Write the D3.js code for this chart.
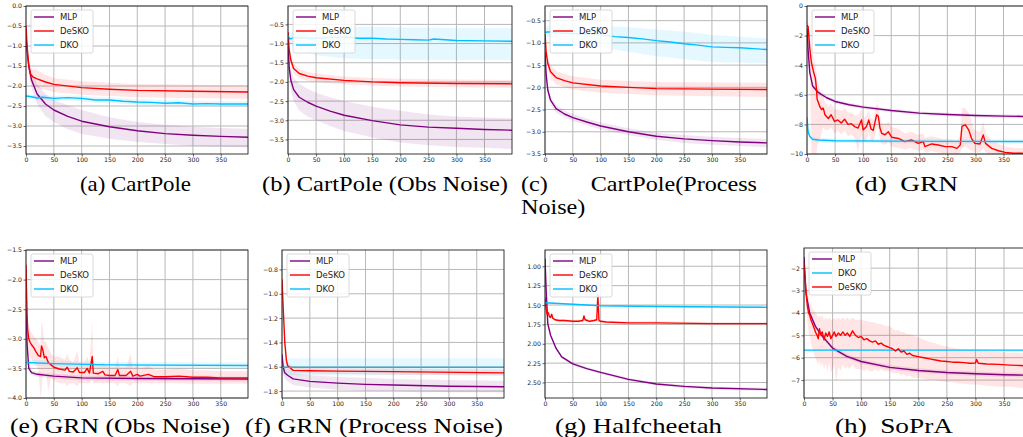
<!DOCTYPE html>
<html>
<head>
<meta charset="utf-8">
<script src="https://cdn.jsdelivr.net/npm/d3@7"></script>
<style>
    body { margin: 0; background: #fff; }
    text { font-family: "DejaVu Sans", sans-serif; }
</style>
</head>
<body>
<script>
// Training curves for 8 environments, each row is [step, mean, low, high]
var xTicks = [0, 50, 100, 150, 200, 250, 300, 350];

// (a) CartPole
var cartMLP = [[0,-0.8,-0.85,-0.75],[2,-1.15,-1.25,-1.05],[5,-1.5,-1.65,-1.35],
    [10,-1.85,-2.05,-1.65],[20,-2.2,-2.45,-1.95],[35,-2.45,-2.75,-2.2],
    [50,-2.6,-2.9,-2.35],[75,-2.76,-3.08,-2.48],[100,-2.88,-3.2,-2.6],
    [150,-3.02,-3.32,-2.78],[200,-3.12,-3.4,-2.9],[250,-3.19,-3.45,-2.97],
    [300,-3.23,-3.5,-3.02],[350,-3.26,-3.52,-3.05],[399,-3.28,-3.54,-3.07]];
var cartDeSKO = [[0,-0.5,-0.55,-0.45],[2,-1.0,-1.1,-0.9],[5,-1.5,-1.65,-1.35],
    [8,-1.7,-1.9,-1.5],[12,-1.77,-2.0,-1.58],[20,-1.82,-2.05,-1.6],
    [35,-1.9,-2.1,-1.72],[50,-1.96,-2.15,-1.8],[100,-2.04,-2.22,-1.88],
    [150,-2.08,-2.25,-1.92],[200,-2.11,-2.28,-1.95],[300,-2.13,-2.3,-1.97],
    [399,-2.15,-2.32,-1.98]];
var cartDKO = [[0,-2.25,-2.3,-2.2],[10,-2.27,-2.33,-2.21],[20,-2.3,-2.36,-2.24],
    [30,-2.28,-2.34,-2.22],[50,-2.31,-2.38,-2.25],[75,-2.29,-2.36,-2.23],
    [100,-2.31,-2.38,-2.24],[125,-2.35,-2.42,-2.28],[150,-2.35,-2.43,-2.28],
    [175,-2.38,-2.45,-2.31],[200,-2.4,-2.47,-2.33],[225,-2.41,-2.48,-2.34],
    [250,-2.43,-2.5,-2.36],[275,-2.42,-2.49,-2.35],[300,-2.45,-2.52,-2.38],
    [325,-2.44,-2.51,-2.37],[350,-2.45,-2.52,-2.38],[399,-2.45,-2.52,-2.38]];

// (b) CartPole (Obs Noise)
var obsMLP = [[0,-1.0,-1.1,-0.9],[2,-1.6,-1.8,-1.4],[5,-1.95,-2.2,-1.7],
    [10,-2.2,-2.5,-1.9],[20,-2.4,-2.75,-2.05],[35,-2.53,-2.9,-2.18],
    [50,-2.63,-3.0,-2.28],[75,-2.76,-3.15,-2.4],[100,-2.87,-3.28,-2.5],
    [150,-3.01,-3.45,-2.65],[200,-3.12,-3.58,-2.75],[250,-3.18,-3.65,-2.85],
    [300,-3.21,-3.7,-2.9],[350,-3.24,-3.72,-2.93],[399,-3.26,-3.75,-2.95]];
var obsDeSKO = [[0,-0.7,-0.75,-0.65],[2,-1.15,-1.25,-1.05],[5,-1.43,-1.55,-1.3],
    [10,-1.65,-1.78,-1.52],[20,-1.78,-1.9,-1.66],[35,-1.85,-1.97,-1.74],
    [50,-1.89,-2.0,-1.78],[100,-1.96,-2.07,-1.86],[150,-2.0,-2.1,-1.9],
    [200,-2.02,-2.12,-1.92],[300,-2.04,-2.14,-1.94],[399,-2.05,-2.15,-1.95]];
var obsDKO = [[0,-0.78,-0.9,-0.7],[3,-0.88,-1.0,-0.75],[10,-0.85,-1.1,-0.65],
    [25,-0.85,-1.2,-0.6],[50,-0.86,-1.3,-0.58],[75,-0.84,-1.35,-0.57],
    [100,-0.83,-1.38,-0.56],[125,-0.86,-1.4,-0.57],[150,-0.86,-1.4,-0.56],
    [175,-0.88,-1.4,-0.57],[200,-0.89,-1.42,-0.58],[225,-0.9,-1.42,-0.58],
    [250,-0.91,-1.43,-0.59],[260,-0.88,-1.42,-0.58],[300,-0.92,-1.43,-0.6],
    [350,-0.93,-1.43,-0.6],[399,-0.94,-1.43,-0.6]];

// (c) CartPole (Process Noise)
var procMLP = [[0,-1.2,-1.3,-1.1],[2,-1.7,-1.8,-1.6],[5,-2.06,-2.15,-1.97],
    [10,-2.29,-2.38,-2.2],[20,-2.48,-2.57,-2.4],[35,-2.6,-2.68,-2.52],
    [50,-2.68,-2.76,-2.6],[75,-2.78,-2.86,-2.7],[100,-2.87,-2.95,-2.79],
    [150,-3.0,-3.08,-2.92],[200,-3.1,-3.18,-3.02],[250,-3.16,-3.25,-3.07],
    [300,-3.2,-3.29,-3.11],[350,-3.23,-3.32,-3.14],[399,-3.25,-3.35,-3.16]];
var procDeSKO = [[0,-0.8,-0.85,-0.75],[2,-1.2,-1.3,-1.1],[5,-1.46,-1.6,-1.32],
    [10,-1.65,-1.8,-1.5],[20,-1.78,-1.93,-1.63],[35,-1.85,-2.0,-1.7],
    [50,-1.9,-2.05,-1.75],[100,-1.97,-2.12,-1.83],[150,-2.0,-2.15,-1.86],
    [200,-2.03,-2.18,-1.88],[300,-2.04,-2.2,-1.89],[399,-2.05,-2.22,-1.9]];
var procDKO = [[0,-0.76,-0.85,-0.65],[10,-0.75,-0.88,-0.6],[25,-0.78,-0.92,-0.6],
    [50,-0.79,-0.98,-0.6],[75,-0.8,-1.03,-0.6],[100,-0.82,-1.08,-0.62],
    [125,-0.86,-1.15,-0.63],[150,-0.88,-1.2,-0.65],[175,-0.91,-1.25,-0.67],
    [200,-0.95,-1.3,-0.7],[225,-0.98,-1.33,-0.72],[250,-1.02,-1.37,-0.75],
    [275,-1.05,-1.4,-0.78],[300,-1.09,-1.43,-0.82],[325,-1.1,-1.44,-0.84],
    [350,-1.11,-1.44,-0.86],[375,-1.13,-1.45,-0.88],[399,-1.15,-1.46,-0.9]];

// (d) GRN
var grnMLP = [[0,-1.5,-1.6,-1.4],[2,-3.0,-3.2,-2.8],[5,-4.5,-4.7,-4.3],
    [10,-5.4,-5.55,-5.25],[20,-5.84,-5.98,-5.7],[35,-6.2,-6.33,-6.07],
    [50,-6.45,-6.58,-6.32],[75,-6.67,-6.8,-6.54],[100,-6.83,-6.96,-6.7],
    [150,-7.06,-7.18,-6.94],[200,-7.24,-7.36,-7.12],[250,-7.33,-7.45,-7.21],
    [300,-7.4,-7.52,-7.28],[350,-7.44,-7.56,-7.32],[399,-7.47,-7.59,-7.35]];
var grnDeSKO = [[0,-1.3,-1.5,-1.1],[2,-1.4,-2.0,-1.0],[5,-2.9,-4.0,-2.0],
    [8,-3.85,-10,-2.8],[12,-4.5,-10,-3.5],[15,-4.9,-10,-4.0],[17,-5.65,-10,-4.5],
    [18,-6.3,-9.5,-5.0],[23,-6.8,-9.0,-5.6],[26,-7.0,-8.6,-6.0],[29,-6.9,-8.2,-6.0],
    [32,-7.35,-8.4,-6.5],[38,-7.6,-8.4,-6.8],[43,-7.35,-8.2,-6.6],[49,-7.8,-8.6,-7.0],
    [55,-7.7,-8.4,-7.0],[61,-7.9,-8.7,-7.1],[67,-7.65,-8.4,-6.9],[73,-8.0,-8.8,-7.2],
    [79,-7.95,-8.7,-7.2],[85,-8.15,-8.9,-7.4],[91,-8.25,-9.9,-7.4],[97,-7.7,-8.6,-6.9],
    [100,-8.37,-9.2,-7.6],[106,-8.15,-9.0,-7.4],[110,-7.7,-8.6,-7.0],[114,-8.3,-9.1,-7.6],
    [118,-8.4,-9.2,-7.7],[124,-7.35,-8.2,-6.6],[127,-7.45,-8.3,-6.7],[130,-8.25,-9.0,-7.5],
    [133,-8.6,-9.3,-7.9],[139,-8.7,-9.4,-8.0],[145,-8.5,-9.2,-7.8],[151,-8.87,-9.5,-8.2],
    [163,-8.95,-9.6,-8.3],[174,-9.16,-9.7,-8.6],[186,-9.05,-9.6,-8.5],[198,-9.28,-9.8,-8.7],
    [207,-9.16,-9.7,-8.6],[210,-9.5,-9.9,-8.9],[222,-9.32,-9.8,-8.8],[234,-9.39,-9.9,-8.9],
    [246,-9.5,-9.95,-9.0],[258,-9.5,-9.95,-9.0],[267,-9.62,-10,-9.1],[273,-9.39,-9.9,-8.8],
    [276,-8.14,-9.6,-6.9],[282,-8.03,-9.5,-6.9],[288,-8.37,-9.6,-7.2],[293,-8.94,-9.8,-7.8],
    [299,-9.28,-9.9,-8.4],[308,-9.32,-9.9,-8.5],[314,-8.71,-9.6,-7.8],[318,-9.28,-9.9,-8.6],
    [329,-9.62,-10,-9.1],[341,-9.78,-10,-9.3],[353,-9.89,-10,-9.5],[368,-9.95,-10,-9.6],
    [383,-9.95,-10,-9.6],[399,-10.0,-10,-9.6]];
var grnDKO = [[0,-7.5,-7.7,-7.3],[2,-8.5,-8.7,-8.3],[5,-8.82,-8.98,-8.66],
    [10,-9.0,-9.15,-8.85],[20,-9.05,-9.2,-8.9],[50,-9.1,-9.25,-8.95],
    [150,-9.13,-9.28,-8.98],[250,-9.15,-9.3,-9.0],[399,-9.16,-9.31,-9.01]];

// (e) GRN (Obs Noise)
var grnObsMLP = [[0,-2.5,-2.6,-2.4],[2,-3.1,-3.2,-3.0],[5,-3.5,-3.55,-3.45],
    [10,-3.57,-3.61,-3.53],[20,-3.6,-3.64,-3.56],[50,-3.63,-3.67,-3.59],
    [100,-3.66,-3.7,-3.62],[200,-3.67,-3.71,-3.63],[399,-3.68,-3.72,-3.64]];
var grnObsDeSKO = [[0,-1.75,-1.85,-1.65],[1,-2.2,-2.4,-2.0],[2,-2.6,-2.8,-2.4],
    [3,-2.85,-3.1,-2.6],[5,-3.0,-3.3,-2.8],[7,-3.05,-3.3,-2.85],[10,-3.1,-3.35,-2.9],
    [14,-3.15,-3.4,-2.95],[18,-3.22,-3.45,-3.0],[22,-3.28,-3.5,-3.05],[26,-3.3,-4.0,-3.1],
    [28,-3.12,-3.9,-2.7],[30,-3.18,-3.6,-2.8],[33,-3.32,-3.6,-3.05],[36,-3.3,-3.55,-3.05],
    [40,-3.4,-3.9,-3.15],[45,-3.44,-3.65,-3.25],[50,-3.48,-3.7,-3.3],[60,-3.51,-3.75,-3.3],
    [70,-3.53,-3.75,-3.35],[74,-3.48,-3.8,-3.25],[78,-3.55,-3.75,-3.35],[85,-3.56,-3.75,-3.4],
    [92,-3.49,-3.8,-3.2],[96,-3.57,-3.75,-3.4],[105,-3.57,-3.75,-3.4],[110,-3.5,-3.75,-3.3],
    [114,-3.58,-3.75,-3.4],[119,-3.3,-3.7,-2.7],[121,-3.58,-3.75,-3.4],[130,-3.59,-3.75,-3.45],
    [138,-3.55,-3.75,-3.4],[142,-3.61,-3.75,-3.45],[150,-3.62,-3.75,-3.48],[160,-3.62,-3.75,-3.48],
    [165,-3.52,-3.8,-3.3],[168,-3.62,-3.75,-3.48],[180,-3.62,-3.75,-3.48],[188,-3.55,-3.8,-3.25],
    [192,-3.63,-3.75,-3.5],[200,-3.6,-3.75,-3.45],[205,-3.63,-3.75,-3.5],[220,-3.6,-3.75,-3.45],
    [230,-3.64,-3.75,-3.52],[250,-3.64,-3.75,-3.52],[275,-3.63,-3.75,-3.5],[300,-3.65,-3.76,-3.53],
    [325,-3.65,-3.76,-3.53],[350,-3.66,-3.76,-3.55],[399,-3.66,-3.76,-3.55]];
var grnObsDKO = [[0,-3.4,-3.45,-3.35],[50,-3.42,-3.47,-3.37],[150,-3.44,-3.49,-3.39],
    [399,-3.45,-3.5,-3.4]];

// (f) GRN (Process Noise)
var grnProcMLP = [[0,-1.5,-1.55,-1.45],[2,-1.6,-1.65,-1.55],[5,-1.65,-1.7,-1.6],
    [10,-1.67,-1.72,-1.62],[20,-1.7,-1.75,-1.65],[50,-1.72,-1.77,-1.67],
    [100,-1.735,-1.79,-1.685],[150,-1.745,-1.8,-1.69],[200,-1.75,-1.8,-1.7],
    [300,-1.76,-1.81,-1.71],[399,-1.765,-1.81,-1.715]];
var grnProcDeSKO = [[0,-0.88,-0.9,-0.86],[2,-1.1,-1.13,-1.07],[5,-1.4,-1.43,-1.37],
    [8,-1.55,-1.58,-1.52],[10,-1.59,-1.62,-1.56],[15,-1.61,-1.64,-1.58],
    [20,-1.63,-1.65,-1.6],[50,-1.633,-1.655,-1.61],[100,-1.636,-1.66,-1.615],
    [200,-1.64,-1.665,-1.615],[399,-1.65,-1.675,-1.625]];
var grnProcDKO = [[0,-1.605,-1.67,-1.53],[399,-1.605,-1.67,-1.53]];

// (g) Halfcheetah
var cheetahMLP = [[0,0.9,0.88,0.92],[2,1.3,1.28,1.32],[5,1.74,1.72,1.76],
    [10,1.89,1.87,1.91],[20,2.06,2.04,2.08],[30,2.17,2.15,2.19],[50,2.26,2.24,2.28],
    [75,2.32,2.3,2.34],[100,2.37,2.35,2.39],[150,2.46,2.44,2.48],[200,2.52,2.5,2.54],
    [250,2.55,2.53,2.57],[300,2.57,2.55,2.59],[399,2.59,2.57,2.61]];
var cheetahDeSKO = [[0,1.4,1.38,1.42],[2,1.55,1.53,1.57],[4,1.62,1.6,1.64],
    [6,1.6,1.58,1.62],[8,1.65,1.63,1.67],[10,1.66,1.64,1.68],[12,1.62,1.6,1.64],
    [14,1.67,1.65,1.69],[18,1.69,1.67,1.71],[25,1.7,1.68,1.72],[35,1.7,1.68,1.72],
    [50,1.71,1.69,1.73],[60,1.71,1.69,1.73],[68,1.7,1.68,1.72],[70,1.64,1.62,1.66],
    [72,1.69,1.67,1.71],[76,1.7,1.68,1.72],[80,1.71,1.69,1.73],[88,1.7,1.68,1.72],
    [93,1.69,1.67,1.71],[95,1.37,1.35,1.39],[97,1.7,1.68,1.72],[100,1.71,1.69,1.73],
    [110,1.72,1.7,1.74],[150,1.73,1.71,1.75],[200,1.73,1.71,1.75],[300,1.74,1.72,1.76],
    [399,1.74,1.72,1.76]];
var cheetahDKO = [[0,1.47,1.46,1.48],[50,1.49,1.48,1.5],[100,1.51,1.5,1.52],
    [200,1.52,1.51,1.53],[399,1.53,1.52,1.54]];

// (h) SoPrA
var sopraMLP = [[0,-1.5,-1.6,-1.4],[3,-3.0,-3.1,-2.9],[5,-3.34,-3.44,-3.24],
    [10,-4.0,-4.1,-3.9],[20,-4.6,-4.7,-4.5],[30,-4.98,-5.08,-4.88],[50,-5.57,-5.67,-5.47],
    [75,-5.94,-6.04,-5.84],[100,-6.17,-6.27,-6.07],[150,-6.43,-6.53,-6.33],
    [200,-6.57,-6.67,-6.47],[250,-6.66,-6.76,-6.56],[300,-6.72,-6.82,-6.62],
    [350,-6.76,-6.86,-6.66],[399,-6.79,-6.89,-6.69]];
var sopraDKO = [[0,-5.66,-5.7,-5.62],[399,-5.66,-5.7,-5.62]];
var sopraDeSKO = [[0,-1.8,-2.0,-1.6],[2,-2.5,-2.9,-2.1],[4,-3.2,-3.8,-2.6],
    [6,-3.7,-4.4,-3.0],[8,-4.0,-4.8,-3.3],[10,-4.1,-5.0,-3.5],[12,-4.3,-5.3,-3.6],
    [15,-4.5,-5.6,-3.8],[18,-4.7,-5.9,-3.9],[20,-4.85,-6.0,-4.0],[23,-5.0,-6.2,-4.1],
    [25,-5.15,-6.3,-4.2],[27,-4.7,-6.1,-4.1],[29,-4.95,-6.4,-4.2],[32,-4.85,-6.2,-4.1],
    [35,-5.2,-6.5,-4.3],[38,-4.9,-6.3,-4.2],[41,-5.05,-6.6,-4.3],[44,-4.85,-6.2,-4.2],
    [47,-5.15,-6.7,-4.3],[50,-5.0,-6.5,-4.3],[53,-4.85,-6.3,-4.2],[56,-5.05,-7.1,-4.3],
    [60,-4.9,-6.4,-4.2],[64,-5.0,-6.6,-4.3],[68,-4.85,-6.3,-4.2],[72,-5.0,-6.5,-4.3],
    [76,-4.9,-6.4,-4.2],[80,-5.05,-6.5,-4.3],[85,-4.8,-6.3,-4.2],[90,-5.0,-6.5,-4.3],
    [95,-5.1,-6.5,-4.3],[100,-5.05,-6.5,-4.3],[105,-5.2,-6.6,-4.35],[110,-5.15,-6.5,-4.35],
    [115,-5.25,-6.6,-4.4],[120,-5.3,-6.6,-4.4],[125,-5.25,-6.5,-4.45],[130,-5.4,-6.6,-4.5],
    [135,-5.35,-6.5,-4.5],[140,-5.45,-6.6,-4.55],[145,-5.5,-6.6,-4.6],[150,-5.55,-6.6,-4.6],
    [155,-5.6,-6.7,-4.7],[160,-5.7,-6.7,-4.8],[165,-5.6,-6.7,-4.75],[170,-5.75,-6.8,-4.85],
    [175,-5.7,-6.75,-4.85],[180,-5.85,-6.85,-4.95],[185,-5.8,-6.8,-4.95],[190,-5.9,-6.9,-5.0],
    [200,-5.95,-6.9,-5.1],[210,-6.0,-6.95,-5.2],[220,-6.05,-7.0,-5.3],[230,-6.1,-7.0,-5.35],
    [240,-6.15,-7.05,-5.45],[250,-6.17,-7.1,-5.5],[260,-6.2,-7.1,-5.55],[270,-6.2,-7.15,-5.6],
    [280,-6.22,-7.15,-5.62],[290,-6.25,-7.2,-5.65],[300,-6.24,-7.2,-5.65],[302,-6.08,-7.2,-5.6],
    [305,-6.25,-7.2,-5.68],[320,-6.28,-7.25,-5.7],[340,-6.3,-7.3,-5.75],[360,-6.33,-7.3,-5.78],
    [380,-6.35,-7.35,-5.8],[399,-6.4,-7.35,-5.85]];

var colors = {MLP: "#800080", DeSKO: "#ff0000", DKO: "#00bfff"};

var panels = [
    {box: [26, 6, 248, 154], yDomain: [-3.7, 0], yTicks: d3.range(0, -3.51, -0.5),
     fmt: ".1f", series: [["MLP", cartMLP], ["DeSKO", cartDeSKO], ["DKO", cartDKO]],
     legend: ["MLP", "DeSKO", "DKO"]},
    {box: [288, 6, 512, 154], yDomain: [-3.88, -0.02], yTicks: d3.range(-0.5, -3.51, -0.5),
     fmt: ".1f", series: [["MLP", obsMLP], ["DeSKO", obsDeSKO], ["DKO", obsDKO]],
     legend: ["MLP", "DeSKO", "DKO"]},
    {box: [545, 6, 767, 154], yDomain: [-3.5, -0.17], yTicks: d3.range(-0.5, -3.51, -0.5),
     fmt: ".1f", series: [["MLP", procMLP], ["DeSKO", procDeSKO], ["DKO", procDKO]],
     legend: ["MLP", "DeSKO", "DKO"]},
    {box: [807, 6, 1031, 154], yDomain: [-10, 0], yTicks: d3.range(0, -10.1, -2),
     fmt: "d", series: [["MLP", grnMLP], ["DeSKO", grnDeSKO], ["DKO", grnDKO]],
     legend: ["MLP", "DeSKO", "DKO"]},
    {box: [26, 250, 248, 398], yDomain: [-4, -1.5], yTicks: d3.range(-1.5, -4.01, -0.5),
     fmt: ".1f", series: [["MLP", grnObsMLP], ["DeSKO", grnObsDeSKO], ["DKO", grnObsDKO]],
     legend: ["MLP", "DeSKO", "DKO"]},
    {box: [282, 250, 504, 398], yDomain: [-1.857, -0.64], yTicks: d3.range(-0.8, -1.81, -0.2),
     fmt: ".1f", series: [["MLP", grnProcMLP], ["DeSKO", grnProcDeSKO], ["DKO", grnProcDKO]],
     legend: ["MLP", "DeSKO", "DKO"]},
    {box: [545, 250, 767, 398], yDomain: [2.70, 0.79], yTicks: d3.range(1.0, 2.51, 0.25),
     fmt: ".2f", series: [["MLP", cheetahMLP], ["DeSKO", cheetahDeSKO], ["DKO", cheetahDKO]],
     legend: ["MLP", "DeSKO", "DKO"]},
    {box: [804, 248, 1032, 398], yDomain: [-7.8, -1.1], yTicks: d3.range(-2, -7.1, -1),
     fmt: "d", series: [["MLP", sopraMLP], ["DKO", sopraDKO], ["DeSKO", sopraDeSKO]],
     legend: ["MLP", "DKO", "DeSKO"]}
];

var svg = d3.select("body").append("svg")
    .attr("width", 1023)
    .attr("height", 437);

panels.forEach(function(p, i) {
    var left = p.box[0], top = p.box[1], right = p.box[2], bottom = p.box[3];
    var x = d3.scaleLinear().domain([0, 399]).range([left, right]);
    var y = d3.scaleLinear().domain(p.yDomain).range([bottom, top]);
    var g = svg.append("g");

    g.append("clipPath").attr("id", "clip" + i)
        .append("rect")
        .attr("x", left).attr("y", top)
        .attr("width", right - left).attr("height", bottom - top);

    // grid
    g.selectAll(".gx").data(xTicks).enter().append("line")
        .attr("x1", function(d) { return x(d); })
        .attr("x2", function(d) { return x(d); })
        .attr("y1", top).attr("y2", bottom)
        .attr("stroke", "#b8b8b8").attr("stroke-width", 1);
    g.selectAll(".gy").data(p.yTicks).enter().append("line")
        .attr("x1", left).attr("x2", right)
        .attr("y1", function(d) { return y(d); })
        .attr("y2", function(d) { return y(d); })
        .attr("stroke", "#b8b8b8").attr("stroke-width", 1);

    var plot = g.append("g").attr("clip-path", "url(#clip" + i + ")");
    var area = d3.area()
        .x(function(d) { return x(d[0]); })
        .y0(function(d) { return y(d[2]); })
        .y1(function(d) { return y(d[3]); });
    var line = d3.line()
        .x(function(d) { return x(d[0]); })
        .y(function(d) { return y(d[1]); });

    p.series.forEach(function(s) {
        plot.append("path").attr("d", area(s[1]))
            .attr("fill", colors[s[0]]).attr("fill-opacity", 0.1);
    });
    p.series.forEach(function(s) {
        plot.append("path").attr("d", line(s[1]))
            .attr("fill", "none")
            .attr("stroke", colors[s[0]])
            .attr("stroke-width", 1.4)
            .attr("stroke-linejoin", "round");
    });

    // frame
    g.append("rect")
        .attr("x", left).attr("y", top)
        .attr("width", right - left).attr("height", bottom - top)
        .attr("fill", "none").attr("stroke", "#222").attr("stroke-width", 0.9);

    // axes
    var xAxis = d3.axisBottom(x).tickValues(xTicks).tickSize(2.5).tickPadding(1.5);
    var yAxis = d3.axisLeft(y).tickValues(p.yTicks).tickSize(2.5).tickPadding(1.5)
        .tickFormat(d3.format(p.fmt));
    var ax = g.append("g").attr("transform", "translate(0," + bottom + ")").call(xAxis);
    var ay = g.append("g").attr("transform", "translate(" + left + ",0)").call(yAxis);
    [ax, ay].forEach(function(a) {
        a.select(".domain").remove();
        a.selectAll("text").attr("font-size", "6.2px")
            .attr("font-family", "DejaVu Sans").attr("fill", "#222");
        a.selectAll("line").attr("stroke", "#222").attr("stroke-width", 0.7);
    });

    // legend
    var lg = g.append("g").attr("transform", "translate(" + (left + 5) + "," + (top + 4) + ")");
    lg.append("rect").attr("width", 62).attr("height", 43).attr("rx", 2)
        .attr("fill", "white").attr("fill-opacity", 0.85)
        .attr("stroke", "#d0d0d0").attr("stroke-width", 0.8);
    p.legend.forEach(function(name, k) {
        var yy = 7 + k * 14;
        lg.append("line").attr("x1", 3).attr("x2", 23)
            .attr("y1", yy).attr("y2", yy)
            .attr("stroke", colors[name]).attr("stroke-width", 1.4);
        lg.append("text").attr("x", 29).attr("y", yy).attr("dy", "0.35em")
            .attr("font-size", "8.5px").attr("fill", "#222").text(name);
    });
});

// captions: label at left edge, name ending at right edge
var captions = [
    ["(a)", "CartPole", 80, 191, 191],
    ["(b)", "CartPole (Obs Noise)", 262, 508, 191],
    ["(c)", "CartPole(Process", 521, 757, 191],
    ["(d)", "GRN", 855, 958, 191],
    ["(e)", "GRN (Obs Noise)", 10, 230, 433],
    ["(f)", "GRN (Process Noise)", 245, 503, 433],
    ["(g)", "Halfcheetah", 555, 722, 433],
    ["(h)", "SoPrA", 835, 953, 433]
];
var serif = "'Liberation Serif', 'Times New Roman', Times, serif";
function makeCaption(str, yPos) {
    return svg.append("text")
        .style("font-family", serif)
        .attr("y", yPos).attr("font-size", "21px").attr("fill", "#000")
        .text(str);
}
function fit(t, xPos, w) {
    t.attr("x", xPos).attr("textLength", w).attr("lengthAdjust", "spacingAndGlyphs");
}
var maxStretch = 1.3;
captions.forEach(function(c) {
    var lab = makeCaption(c[0], c[4]);
    var name = makeCaption(c[1], c[4]);
    var sp = makeCaption("\u00a0", -50);
    var wl = lab.node().getComputedTextLength();
    var wn = name.node().getComputedTextLength();
    var ws = sp.node().getComputedTextLength();
    sp.remove();
    var span = c[3] - c[2];
    var s = Math.min(span / (wl + ws + wn), maxStretch);
    if (c[0] === "(c)") s = 1.15;
    fit(lab, c[2], wl * s);
    fit(name, c[3] - wn * s, wn * s);
    if (c[0] === "(c)") {
        var w2 = makeCaption("Noise)", 214);
        fit(w2, c[2], w2.node().getComputedTextLength() * s);
    }
});
</script>
</body>
</html>
